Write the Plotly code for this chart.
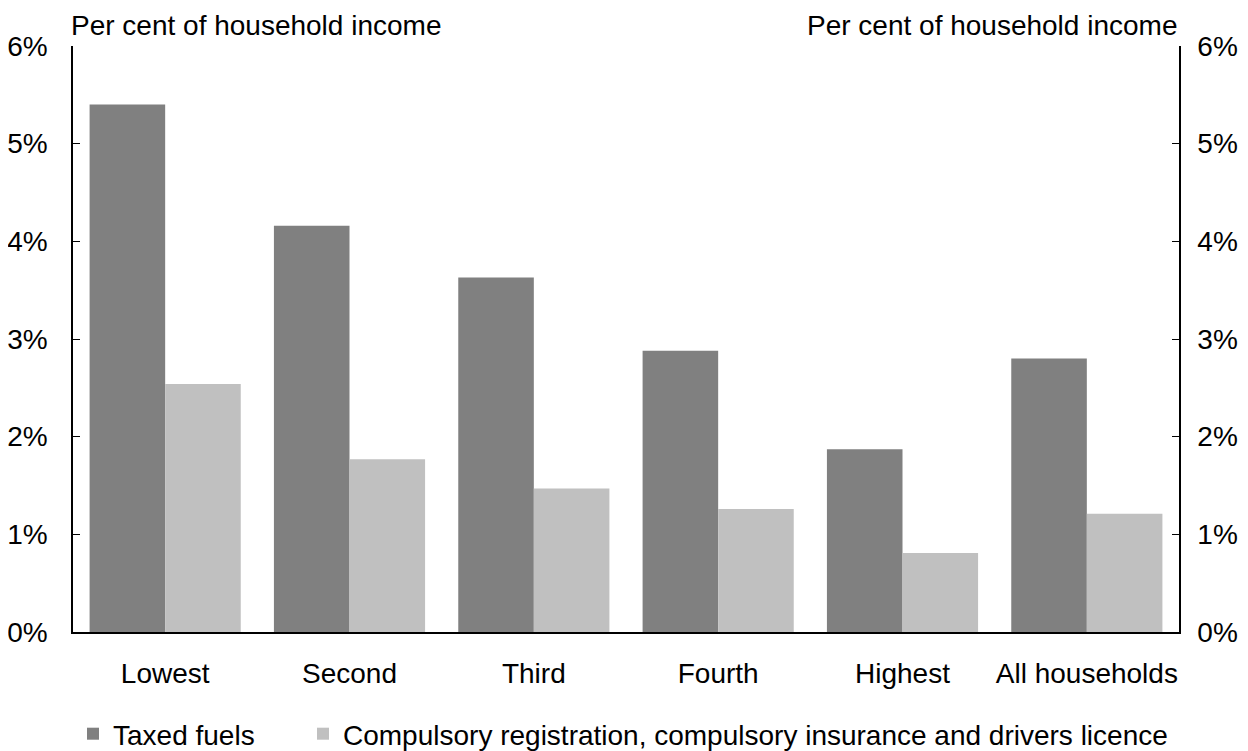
import plotly.graph_objects as go

categories = ["Lowest", "Second", "Third", "Fourth", "Highest", "All households"]
taxed_fuels = [5.40, 4.16, 3.63, 2.88, 1.87, 2.80]
compulsory = [2.54, 1.77, 1.47, 1.26, 0.81, 1.21]

FONT = "Liberation Sans, Arial, sans-serif"
FS = 28
W, H = 1240, 743

fig = go.Figure()
fig.add_trace(go.Bar(
    x=categories, y=taxed_fuels, name="Taxed fuels",
    marker=dict(color="#808080", line=dict(width=0)), legend="legend",
))
fig.add_trace(go.Bar(
    x=categories, y=compulsory,
    name="Compulsory registration, compulsory insurance and drivers licence",
    marker=dict(color="#c0c0c0", line=dict(width=0)), legend="legend2",
))
# invisible trace so the right-hand axis is drawn
fig.add_trace(go.Scatter(
    x=categories, y=taxed_fuels, yaxis="y2", mode="markers",
    marker=dict(opacity=0), showlegend=False, hoverinfo="skip",
))

axis_common = dict(
    range=[0, 6], dtick=1, ticksuffix="%", ticks="inside", ticklen=7,
    tickcolor="black", showline=True, linecolor="black", linewidth=1.5,
    showgrid=False, zeroline=False, tickfont=dict(size=FS, color="black"),
    automargin=False, fixedrange=True,
)

legend_common = dict(
    orientation="h", xref="container", yref="container", xanchor="left",
    y=17 / H, yanchor="middle", font=dict(size=FS), itemwidth=30,
)

# page body has an 8px default margin, so the figure is 8px smaller
fig.update_layout(
    width=W, height=H,
    plot_bgcolor="white", paper_bgcolor="white",
    font=dict(family=FONT, size=FS, color="black"),
    margin=dict(l=65, r=69, t=38, b=119),
    barmode="group", bargap=0.18, bargroupgap=0,
    xaxis=dict(showline=True, linecolor="black", linewidth=1.5, ticks="",
               tickfont=dict(size=FS, color="black"), showgrid=False,
               automargin=False, ticklabelstandoff=16),
    yaxis=dict(**axis_common, ticklabelstandoff=18),
    yaxis2=dict(**axis_common, overlaying="y", side="right",
                ticklabelstandoff=11),
    legend=dict(**legend_common, x=65 / W),
    legend2=dict(**legend_common, x=295 / W),
    showlegend=True,
)

for x, anchor, shift in [(0, "left", -4), (1, "right", 0)]:
    fig.add_annotation(text="Per cent of household income", xref="paper", yref="paper",
                       x=x, y=1, xanchor=anchor, yanchor="bottom", yshift=3,
                       xshift=shift, showarrow=False, font=dict(size=FS))

fig.write_html("out.html")
